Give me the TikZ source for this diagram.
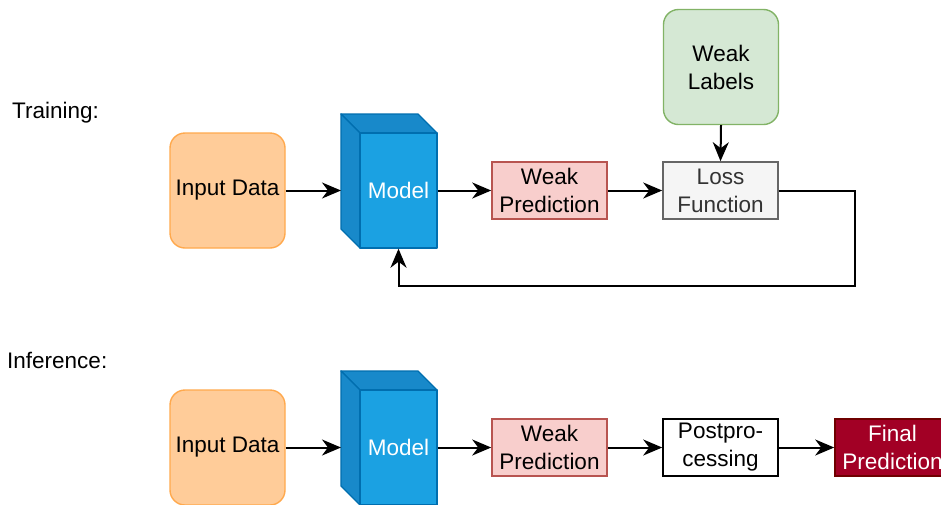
\documentclass[tikz,border=0pt]{standalone}
\usepackage{fontspec}
\setmainfont{Liberation Sans}
\usetikzlibrary{arrows.meta}
\definecolor{inFill}{HTML}{FFCC99}
\definecolor{inLine}{HTML}{FFA94D}
\definecolor{cubeFront}{HTML}{1BA1E2}
\definecolor{cubeSide}{HTML}{1889CA}
\definecolor{cubeLine}{HTML}{006EAF}
\definecolor{predFill}{HTML}{F8CECC}
\definecolor{predLine}{HTML}{B85450}
\definecolor{lossFill}{HTML}{F5F5F5}
\definecolor{lossLine}{HTML}{666666}
\definecolor{lossText}{HTML}{333333}
\definecolor{lblFill}{HTML}{D5E8D4}
\definecolor{lblLine}{HTML}{82B366}
\definecolor{finFill}{HTML}{A20025}
\definecolor{finLine}{HTML}{6F0000}
\tikzset{
  txt/.style={font=\fontsize{22.5}{28}\selectfont, align=center, inner sep=0pt},
  bigbox/.style={txt, rounded corners=15pt, line width=1.4pt, minimum width=115pt, minimum height=115pt},
  smallbox/.style={txt, line width=1.6pt, minimum width=115pt, minimum height=57pt},
  link/.style={line width=2pt, -{Stealth[length=19pt,width=16pt,inset=6pt]}},
  cubeface/.style={draw=cubeLine, line width=1.4pt, line join=round},
  steplabel/.style={font=\fontsize{22.5}{26}\selectfont, anchor=west, inner sep=0pt}
}
\begin{document}
\begin{tikzpicture}[x=1pt,y=-1pt]
\useasboundingbox (0,0) rectangle (941,504);
\clip (0,0) rectangle (941,504);
\fill[white] (0,0) rectangle (941,504);

% section labels
\node[steplabel] (trainlbl) at (12,113) {Training:};
\node[steplabel] (inferlbl) at (7,360) {Inference:};

% ---------- training row ----------
\node[bigbox, fill=inFill, draw=inLine] (in1) at (227.5,190.5) {Input Data};

% model cube (front face 360..437, depth 19)
\filldraw[cubeface, fill=cubeSide] (341,114) -- (418,114) -- (437,133) -- (360,133) -- cycle;
\filldraw[cubeface, fill=cubeSide] (341,114) -- (360,133) -- (360,248) -- (341,229) -- cycle;
\node[txt, cubeface, fill=cubeFront, text=white, minimum width=77pt, minimum height=115pt] (model1) at (398.5,190.5) {Model};
\coordinate (model1back) at (341,190.5);

\node[smallbox, fill=predFill, draw=predLine] (pred1) at (549.5,190.5) {Weak\\Prediction};
\node[smallbox, fill=lossFill, draw=lossLine, text=lossText] (loss) at (720.5,190.5) {Loss\\Function};
\node[bigbox, fill=lblFill, draw=lblLine] (labels) at (721,67) {Weak\\Labels};

\draw[link] (in1.east) -- (model1back);
\draw[link] (model1.east) -- (pred1.west);
\draw[link] (pred1.east) -- (loss.west);
\draw[link] (labels.south) -- (loss.north);
\coordinate (fbcorner) at (855,286);
\draw[link] (loss.east) -| (fbcorner) -| (model1.south);

% ---------- inference row ----------
\node[bigbox, fill=inFill, draw=inLine] (in2) at (227.5,447.5) {Input Data};

\filldraw[cubeface, fill=cubeSide] (341,371) -- (418,371) -- (437,390) -- (360,390) -- cycle;
\filldraw[cubeface, fill=cubeSide] (341,371) -- (360,390) -- (360,505) -- (341,486) -- cycle;
\node[txt, cubeface, fill=cubeFront, text=white, minimum width=77pt, minimum height=115pt] (model2) at (398.5,447.5) {Model};
\coordinate (model2back) at (341,447.5);

\node[smallbox, fill=predFill, draw=predLine] (pred2) at (549.5,447.5) {Weak\\Prediction};
\node[smallbox, fill=white, draw=black] (post) at (720.5,447.5) {Postpro-\\cessing};
\node[smallbox, fill=finFill, draw=finLine, text=white] (final) at (892.5,447.5) {Final\\Prediction};

\draw[link] (in2.east) -- (model2back);
\draw[link] (model2.east) -- (pred2.west);
\draw[link] (pred2.east) -- (post.west);
\draw[link] (post.east) -- (final.west);
\end{tikzpicture}
\end{document}
